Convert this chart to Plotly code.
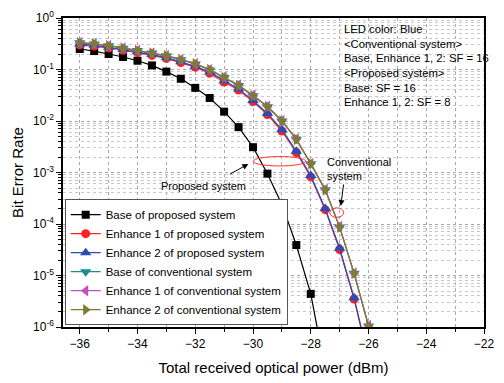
import plotly.graph_objects as go

x_pb = [-36, -35.5, -35, -34.5, -34, -33.5, -33, -32.5, -32, -31.5, -31, -30.5, -30, -29.5, -29, -28.5, -28, -27.5]
y_pb = [0.25, 0.228, 0.2, 0.175, 0.148, 0.12, 0.091, 0.066, 0.044, 0.028, 0.0152, 0.0076, 0.0031, 9.5e-4, 2.4e-4, 3.9e-5, 4.4e-6, 1.5e-7]

x_all = [-36, -35.5, -35, -34.5, -34, -33.5, -33, -32.5, -32, -31.5, -31, -30.5, -30, -29.5, -29, -28.5, -28, -27.5, -27, -26.5, -26]
y_pe1 = [0.30, 0.285, 0.262, 0.237, 0.212, 0.188, 0.164, 0.137, 0.111, 0.085, 0.057, 0.040, 0.0238, 0.0133, 0.0064, 0.00245, 8.2e-4, 1.9e-4, 3.2e-5, 3.5e-6, 2.3e-7]
y_pe2 = [0.31, 0.295, 0.27, 0.245, 0.22, 0.195, 0.17, 0.142, 0.115, 0.089, 0.06, 0.042, 0.025, 0.014, 0.0068, 0.0026, 8.7e-4, 2.0e-4, 3.4e-5, 3.7e-6, 2.5e-7]
y_cb = [0.33, 0.314, 0.29, 0.26, 0.233, 0.208, 0.184, 0.155, 0.128, 0.098, 0.070, 0.049, 0.031, 0.019, 0.0100, 0.0044, 0.00148, 4.6e-4, 8.7e-5, 1.1e-5, 1.05e-6]
y_ce1 = [0.335, 0.318, 0.293, 0.262, 0.235, 0.21, 0.186, 0.157, 0.13, 0.099, 0.071, 0.05, 0.0315, 0.0193, 0.0102, 0.0045, 0.0015, 4.7e-4, 8.9e-5, 1.12e-5, 1.07e-6]
y_ce2 = [0.33, 0.315, 0.29, 0.26, 0.233, 0.208, 0.184, 0.155, 0.129, 0.1, 0.070, 0.049, 0.031, 0.019, 0.0100, 0.0044, 0.00148, 4.6e-4, 8.7e-5, 1.1e-5, 1.05e-6]

series = [
    ("Base of proposed system", x_pb, y_pb, "black", "square", 8),
    ("Enhance 1 of proposed system", x_all, y_pe1, "#FF2020", "circle", 9),
    ("Enhance 2 of proposed system", x_all, y_pe2, "#2A4BB8", "triangle-up", 10),
    ("Base of conventional system", x_all, y_cb, "#1E8C8C", "triangle-down", 10),
    ("Enhance 1 of conventional system", x_all, y_ce1, "#C050C0", "triangle-left", 10),
    ("Enhance 2 of conventional system", x_all, y_ce2, "#7D7D2D", "triangle-right", 10),
]

FONT = "Liberation Sans, Arial, sans-serif"
fig = go.Figure()
for name, xs, ys, col, sym, sz in series:
    fig.add_trace(go.Scatter(x=xs, y=ys, name=name, mode="lines+markers",
                             line=dict(color=col, width=1.2),
                             marker=dict(symbol=sym, size=sz, color=col)))

dec_vals = [10.0 ** e for e in range(-6, 1)]
dec_text = ["10<sup>%d</sup>" % e for e in range(-6, 1)]
minor_vals = [m * 10.0 ** e for e in range(-6, 0) for m in range(2, 10)]

fig.update_layout(
    width=504, height=383,
    margin=dict(l=63, r=9, t=17, b=49),
    paper_bgcolor="white", plot_bgcolor="white",
    font=dict(family=FONT, color="black", size=12),
    showlegend=True,
    legend=dict(x=0.004, y=0.006, xanchor="left", yanchor="bottom",
                bgcolor="white", bordercolor="#555555", borderwidth=1,
                font=dict(size=11.5, family=FONT), tracegroupgap=0,
                itemwidth=30),
    xaxis=dict(range=[-36.58, -22], tickvals=[-36, -34, -32, -30, -28, -26, -24, -22],
               ticks="outside", ticklen=5, tickwidth=1, tickcolor="black",
               showline=True, linecolor="black", linewidth=1.5, mirror=True,
               showgrid=True, gridcolor="#a8a8a8", griddash="dot", gridwidth=1,
               zeroline=False,
               minor=dict(dtick=1, tick0=-36, ticks="outside", ticklen=3, tickcolor="black",
                          showgrid=True, gridcolor="#a8a8a8", griddash="dot"),
               title=dict(text="Total received optical power (dBm)", font=dict(size=15), standoff=12),
               tickfont=dict(size=12)),
    yaxis=dict(type="log", range=[-6, 0], tickvals=dec_vals, ticktext=dec_text,
               ticks="outside", ticklen=5, tickwidth=1, tickcolor="black",
               showline=True, linecolor="black", linewidth=1.5, mirror=True,
               showgrid=True, gridcolor="#a8a8a8", griddash="dot", gridwidth=1,
               zeroline=False,
               minor=dict(tickvals=minor_vals, ticks="outside", ticklen=3, tickcolor="black",
                          showgrid=True, gridcolor="#c8c8c8", griddash="dot"),
               title=dict(text="Bit Error Rate", font=dict(size=15), standoff=6),
               tickfont=dict(size=12)),
)

fig.add_annotation(xref="paper", yref="paper", x=0.662, y=0.99, xanchor="left", yanchor="top",
                   align="left", showarrow=False, font=dict(size=11.3, family=FONT),
                   text="LED color: Blue<br>&lt;Conventional system&gt;<br>Base, Enhance 1, 2: SF = 16"
                        "<br>&lt;Proposed system&gt;<br>Base: SF = 16<br>Enhance 1, 2: SF = 8")

fig.add_annotation(x=-31.72, y=-3.27, text="Proposed system", showarrow=False,
                   font=dict(size=11, family=FONT))
fig.add_annotation(x=-30.16, y=-2.835, ax=-20, ay=11, text="", showarrow=True,
                   arrowhead=2, arrowsize=1.2, arrowwidth=1, arrowcolor="black")
fig.add_annotation(x=-27.5, y=-2.93, xanchor="left", align="left", text="Conventional<br>system",
                   showarrow=False, font=dict(size=11, family=FONT))
fig.add_annotation(x=-26.96, y=-3.65, ax=3, ay=-23, text="", showarrow=True,
                   arrowhead=2, arrowsize=1.2, arrowwidth=1, arrowcolor="black")

fig.add_shape(type="circle", xref="x", yref="y", x0=-29.99, x1=-28.17,
              y0=10 ** -2.873, y1=10 ** -2.69, line=dict(color="#FF3030", width=1))
fig.add_shape(type="circle", xref="x", yref="y", x0=-27.34, x1=-26.86,
              y0=10 ** -3.87, y1=10 ** -3.687, line=dict(color="#FF3030", width=1))

fig.write_html("out.html")
